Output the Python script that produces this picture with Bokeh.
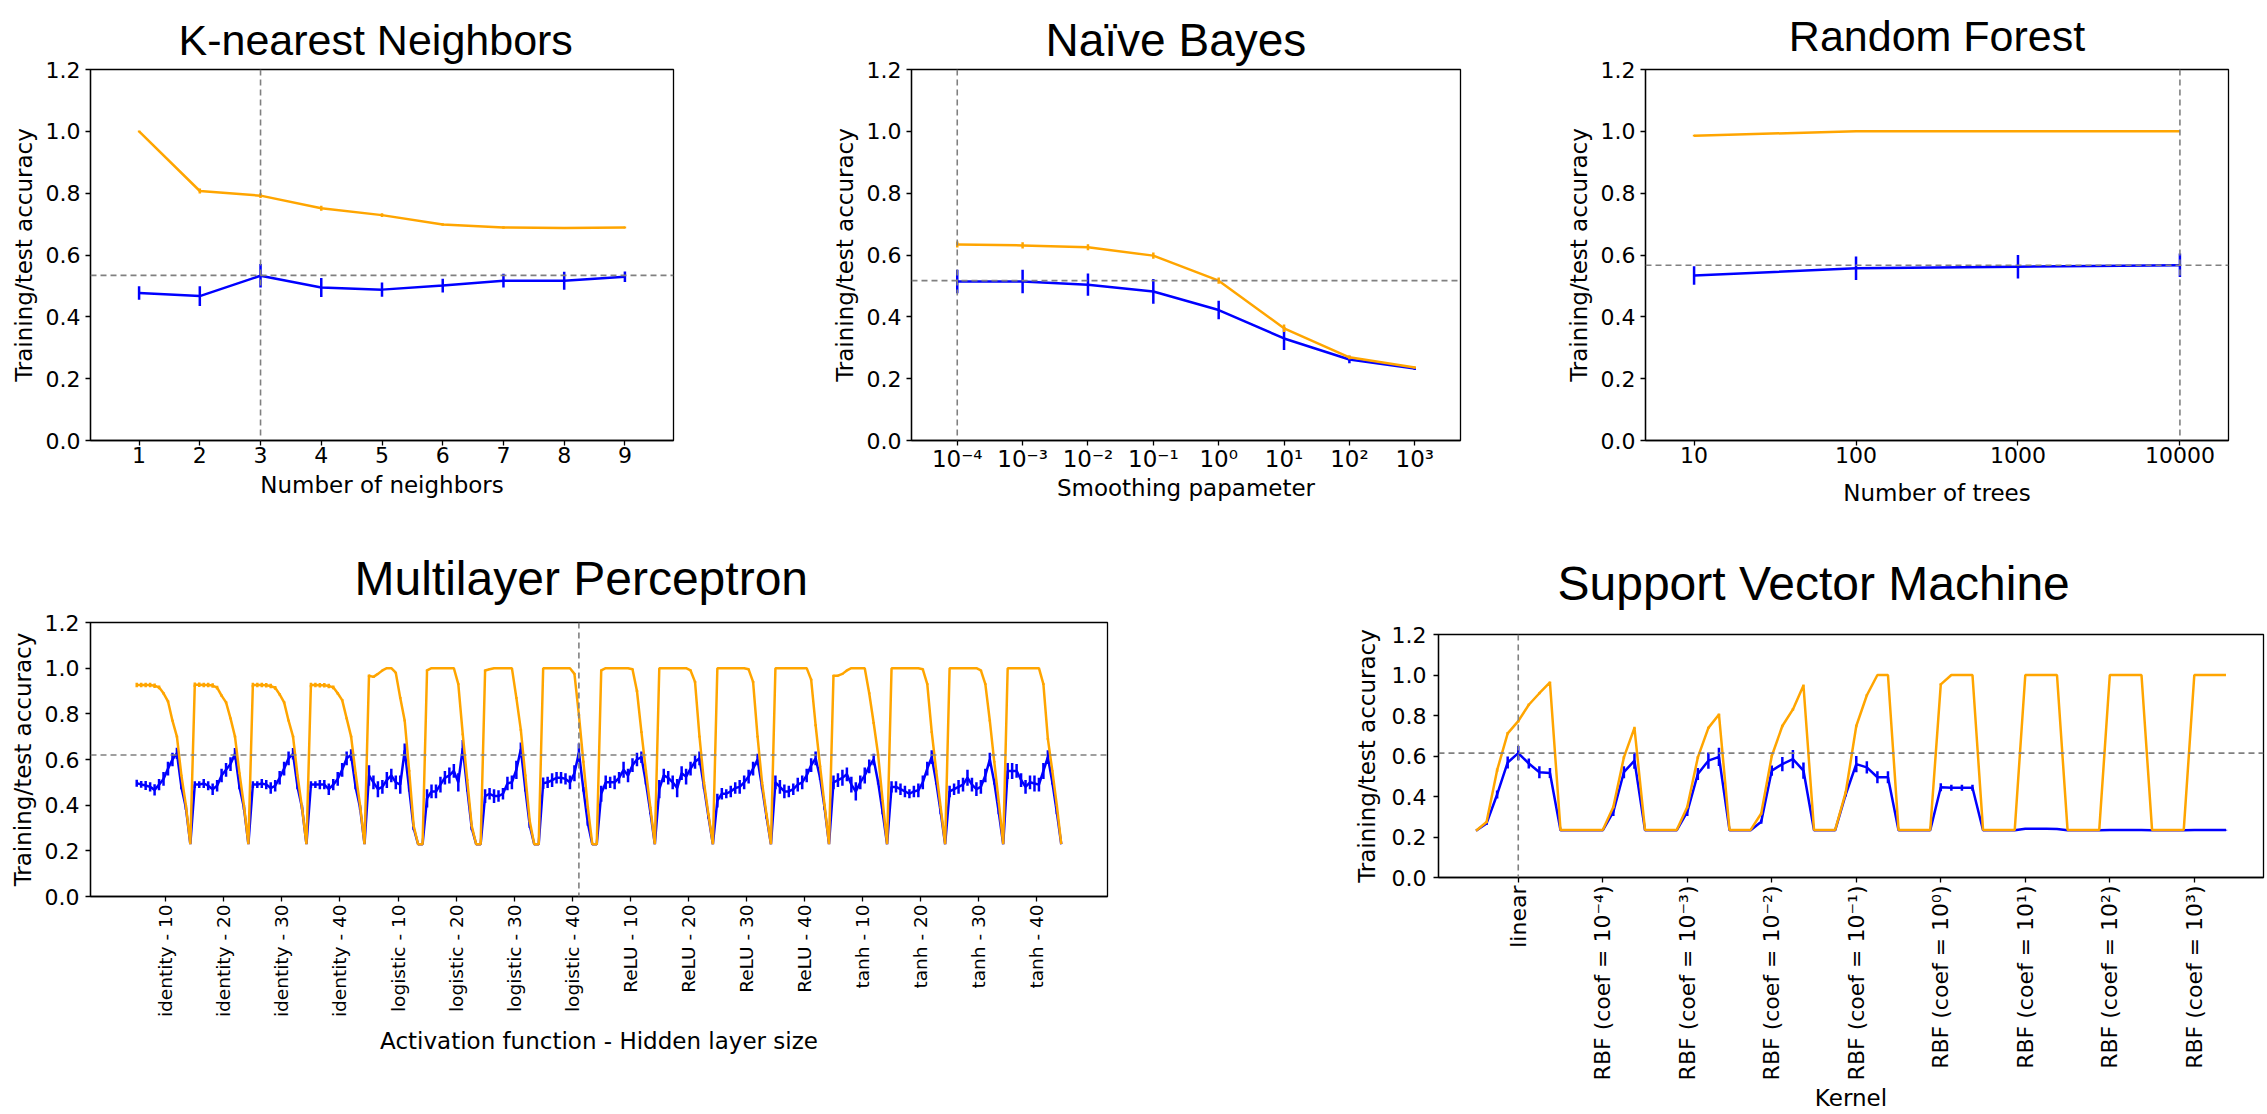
import math
import numpy as np
from bokeh.plotting import figure
from bokeh.layouts import column, row
from bokeh.models import Span, FixedTicker, PrintfTickFormatter, Spacer
from bokeh.embed import file_html
from bokeh.resources import INLINE

ORANGE = "#FFA500"
BLUE = "#0000FF"
DASH = "#808080"
FONT = "DejaVu Sans"
TFONT = "Liberation Sans"

# ---------------- K-nearest neighbours ----------------
knn_k = [1, 2, 3, 4, 5, 6, 7, 8, 9]
knn_train = [1.0, 0.807, 0.792, 0.751, 0.729, 0.699, 0.689, 0.687, 0.689]
knn_train_err = [0.003, 0.008, 0.008, 0.008, 0.006, 0.004, 0.004, 0.003, 0.003]
knn_test = [0.477, 0.467, 0.533, 0.495, 0.488, 0.501, 0.517, 0.517, 0.530]
knn_test_err = [0.022, 0.032, 0.038, 0.031, 0.023, 0.022, 0.022, 0.029, 0.017]
knn_best = 3
knn_best_acc = 0.534

# ---------------- Naive Bayes ----------------
nb_alpha = [1e-4, 1e-3, 1e-2, 1e-1, 1e0, 1e1, 1e2, 1e3]
nb_labels = ["10⁻⁴", "10⁻³", "10⁻²", "10⁻¹", "10⁰", "10¹", "10²", "10³"]
nb_train = [0.634, 0.631, 0.625, 0.598, 0.517, 0.363, 0.269, 0.236]
nb_train_err = [0.01, 0.01, 0.01, 0.01, 0.01, 0.012, 0.006, 0.004]
nb_test = [0.514, 0.514, 0.504, 0.482, 0.422, 0.330, 0.262, 0.233]
nb_test_err = [0.038, 0.038, 0.036, 0.04, 0.03, 0.037, 0.012, 0.005]
nb_best = 1e-4
nb_best_acc = 0.517

# ---------------- Random forest ----------------
rf_trees = [10, 100, 1000, 10000]
rf_labels = ["10", "100", "1000", "10000"]
rf_train = [0.986, 1.0, 1.0, 1.0]
rf_train_err = [0.003, 0.0, 0.0, 0.0]
rf_test = [0.534, 0.557, 0.562, 0.567]
rf_test_err = [0.03, 0.038, 0.038, 0.038]
rf_best = 10000
rf_best_acc = 0.567

# ---------------- Multilayer perceptron ----------------
mlp_labels = ["identity - 10", "identity - 20", "identity - 30", "identity - 40",
              "logistic - 10", "logistic - 20", "logistic - 30", "logistic - 40",
              "ReLU - 10", "ReLU - 20", "ReLU - 30", "ReLU - 40",
              "tanh - 10", "tanh - 20", "tanh - 30", "tanh - 40"]
mlp_train = [
    [0.926, 0.926, 0.926, 0.926, 0.923, 0.916, 0.89, 0.855, 0.77, 0.70, 0.53, 0.40, 0.229],
    [0.927, 0.927, 0.926, 0.926, 0.924, 0.915, 0.88, 0.85, 0.78, 0.70, 0.54, 0.40, 0.229],
    [0.926, 0.926, 0.926, 0.925, 0.922, 0.914, 0.885, 0.85, 0.77, 0.70, 0.53, 0.39, 0.229],
    [0.926, 0.926, 0.925, 0.925, 0.922, 0.916, 0.89, 0.86, 0.78, 0.70, 0.54, 0.40, 0.229],
    [0.967, 0.962, 0.975, 0.99, 1.0, 1.0, 0.98, 0.87, 0.77, 0.55, 0.31, 0.229, 0.229],
    [0.99, 1.0, 1.0, 1.0, 1.0, 1.0, 1.0, 0.93, 0.71, 0.51, 0.31, 0.229, 0.229],
    [0.99, 0.995, 1.0, 1.0, 1.0, 1.0, 1.0, 0.87, 0.73, 0.53, 0.33, 0.229, 0.229],
    [1.0, 1.0, 1.0, 1.0, 1.0, 1.0, 1.0, 0.975, 0.795, 0.59, 0.39, 0.229, 0.229],
    [0.99, 1.0, 1.0, 1.0, 1.0, 1.0, 1.0, 0.995, 0.90, 0.72, 0.55, 0.39, 0.229],
    [1.0, 1.0, 1.0, 1.0, 1.0, 1.0, 1.0, 0.99, 0.94, 0.70, 0.50, 0.36, 0.229],
    [1.0, 1.0, 1.0, 1.0, 1.0, 1.0, 1.0, 0.995, 0.94, 0.70, 0.50, 0.36, 0.229],
    [1.0, 1.0, 1.0, 1.0, 1.0, 1.0, 1.0, 1.0, 0.95, 0.75, 0.57, 0.40, 0.229],
    [0.967, 0.967, 0.975, 0.99, 1.0, 1.0, 1.0, 1.0, 0.89, 0.76, 0.62, 0.42, 0.229],
    [1.0, 1.0, 1.0, 1.0, 1.0, 1.0, 1.0, 0.995, 0.93, 0.72, 0.55, 0.39, 0.229],
    [1.0, 1.0, 1.0, 1.0, 1.0, 1.0, 1.0, 0.99, 0.93, 0.77, 0.59, 0.415, 0.229],
    [1.0, 1.0, 1.0, 1.0, 1.0, 1.0, 1.0, 1.0, 0.93, 0.69, 0.55, 0.40, 0.229],
]
mlp_train_err = [
    [0.01, 0.01, 0.01, 0.01, 0.01, 0.008, 0.005, 0.005, 0.004, 0.004, 0.003, 0.0, 0.0],
    [0.01, 0.01, 0.01, 0.01, 0.01, 0.008, 0.005, 0.005, 0.004, 0.004, 0.003, 0.0, 0.0],
    [0.01, 0.01, 0.01, 0.01, 0.01, 0.008, 0.005, 0.005, 0.004, 0.004, 0.003, 0.0, 0.0],
    [0.01, 0.01, 0.01, 0.01, 0.01, 0.008, 0.005, 0.005, 0.004, 0.004, 0.003, 0.0, 0.0],
    [0.005, 0.005, 0.004, 0.003, 0.0, 0.0, 0.003, 0.004, 0.004, 0.004, 0.003, 0.0, 0.0],
    [0.004, 0.0, 0.0, 0.0, 0.0, 0.0, 0.0, 0.004, 0.004, 0.004, 0.003, 0.0, 0.0],
    [0.004, 0.003, 0.0, 0.0, 0.0, 0.0, 0.0, 0.004, 0.004, 0.004, 0.003, 0.0, 0.0],
    [0.0, 0.0, 0.0, 0.0, 0.0, 0.0, 0.0, 0.004, 0.004, 0.004, 0.003, 0.0, 0.0],
    [0.004, 0.0, 0.0, 0.0, 0.0, 0.0, 0.0, 0.003, 0.004, 0.004, 0.003, 0.003, 0.0],
    [0.0, 0.0, 0.0, 0.0, 0.0, 0.0, 0.0, 0.004, 0.004, 0.004, 0.003, 0.003, 0.0],
    [0.0, 0.0, 0.0, 0.0, 0.0, 0.0, 0.0, 0.004, 0.004, 0.004, 0.003, 0.003, 0.0],
    [0.0, 0.0, 0.0, 0.0, 0.0, 0.0, 0.0, 0.0, 0.004, 0.004, 0.003, 0.003, 0.0],
    [0.004, 0.004, 0.004, 0.003, 0.0, 0.0, 0.0, 0.0, 0.004, 0.004, 0.003, 0.003, 0.0],
    [0.0, 0.0, 0.0, 0.0, 0.0, 0.0, 0.0, 0.003, 0.004, 0.004, 0.003, 0.003, 0.0],
    [0.0, 0.0, 0.0, 0.0, 0.0, 0.0, 0.0, 0.003, 0.004, 0.004, 0.003, 0.003, 0.0],
    [0.0, 0.0, 0.0, 0.0, 0.0, 0.0, 0.0, 0.0, 0.004, 0.004, 0.003, 0.003, 0.0],
]
mlp_test = [
    [0.496, 0.491, 0.486, 0.48, 0.467, 0.49, 0.515, 0.56, 0.60, 0.627, 0.48, 0.39, 0.229],
    [0.49, 0.49, 0.495, 0.485, 0.47, 0.485, 0.53, 0.555, 0.58, 0.625, 0.48, 0.39, 0.229],
    [0.49, 0.49, 0.495, 0.49, 0.475, 0.485, 0.52, 0.56, 0.605, 0.625, 0.48, 0.39, 0.229],
    [0.49, 0.49, 0.49, 0.49, 0.47, 0.49, 0.515, 0.555, 0.605, 0.62, 0.48, 0.39, 0.229],
    [0.53, 0.50, 0.47, 0.48, 0.51, 0.53, 0.50, 0.49, 0.64, 0.47, 0.30, 0.229, 0.229],
    [0.43, 0.46, 0.46, 0.49, 0.52, 0.53, 0.55, 0.50, 0.65, 0.47, 0.30, 0.229, 0.229],
    [0.44, 0.45, 0.44, 0.44, 0.45, 0.495, 0.50, 0.555, 0.645, 0.47, 0.31, 0.229, 0.229],
    [0.496, 0.50, 0.51, 0.52, 0.52, 0.515, 0.50, 0.54, 0.63, 0.47, 0.32, 0.229, 0.229],
    [0.45, 0.50, 0.50, 0.50, 0.52, 0.555, 0.53, 0.575, 0.60, 0.61, 0.50, 0.37, 0.229],
    [0.47, 0.53, 0.52, 0.50, 0.475, 0.54, 0.525, 0.56, 0.59, 0.605, 0.48, 0.35, 0.229],
    [0.42, 0.45, 0.45, 0.46, 0.475, 0.48, 0.50, 0.525, 0.56, 0.60, 0.48, 0.35, 0.229],
    [0.50, 0.48, 0.46, 0.46, 0.47, 0.49, 0.50, 0.53, 0.575, 0.605, 0.52, 0.39, 0.229],
    [0.50, 0.51, 0.52, 0.535, 0.49, 0.46, 0.50, 0.53, 0.57, 0.60, 0.50, 0.37, 0.229],
    [0.48, 0.48, 0.47, 0.46, 0.45, 0.46, 0.465, 0.50, 0.56, 0.61, 0.50, 0.37, 0.229],
    [0.46, 0.47, 0.48, 0.49, 0.52, 0.49, 0.47, 0.48, 0.53, 0.60, 0.50, 0.37, 0.229],
    [0.55, 0.55, 0.55, 0.51, 0.48, 0.50, 0.495, 0.49, 0.55, 0.61, 0.50, 0.37, 0.229],
]
mlp_test_err = [
    [0.015, 0.015, 0.02, 0.02, 0.025, 0.025, 0.03, 0.03, 0.03, 0.025, 0.01, 0.01, 0.0],
    [0.015, 0.015, 0.02, 0.02, 0.025, 0.025, 0.03, 0.03, 0.03, 0.025, 0.01, 0.01, 0.0],
    [0.015, 0.015, 0.02, 0.02, 0.025, 0.025, 0.03, 0.03, 0.03, 0.025, 0.01, 0.01, 0.0],
    [0.015, 0.015, 0.02, 0.02, 0.025, 0.025, 0.03, 0.03, 0.03, 0.025, 0.01, 0.01, 0.0],
    [0.045, 0.03, 0.035, 0.03, 0.035, 0.03, 0.03, 0.04, 0.03, 0.01, 0.01, 0.0, 0.0],
    [0.04, 0.03, 0.03, 0.035, 0.03, 0.035, 0.03, 0.04, 0.035, 0.01, 0.01, 0.0, 0.0],
    [0.03, 0.025, 0.03, 0.025, 0.025, 0.03, 0.03, 0.04, 0.03, 0.01, 0.01, 0.0, 0.0],
    [0.025, 0.025, 0.03, 0.025, 0.025, 0.025, 0.03, 0.035, 0.04, 0.01, 0.01, 0.0, 0.0],
    [0.035, 0.03, 0.025, 0.03, 0.025, 0.035, 0.03, 0.03, 0.03, 0.025, 0.01, 0.01, 0.0],
    [0.04, 0.03, 0.03, 0.03, 0.04, 0.03, 0.035, 0.03, 0.03, 0.03, 0.01, 0.01, 0.0],
    [0.03, 0.025, 0.02, 0.025, 0.025, 0.03, 0.03, 0.03, 0.03, 0.025, 0.01, 0.01, 0.0],
    [0.03, 0.03, 0.03, 0.025, 0.025, 0.03, 0.03, 0.03, 0.03, 0.03, 0.01, 0.01, 0.0],
    [0.03, 0.03, 0.035, 0.03, 0.035, 0.04, 0.03, 0.035, 0.03, 0.025, 0.01, 0.01, 0.0],
    [0.025, 0.025, 0.025, 0.025, 0.02, 0.025, 0.03, 0.03, 0.03, 0.03, 0.01, 0.01, 0.0],
    [0.025, 0.025, 0.03, 0.03, 0.035, 0.03, 0.03, 0.03, 0.03, 0.03, 0.01, 0.01, 0.0],
    [0.035, 0.035, 0.03, 0.03, 0.03, 0.03, 0.035, 0.03, 0.035, 0.03, 0.01, 0.01, 0.0],
]
mlp_best_index = 99
mlp_best_acc = 0.62

# ---------------- Support vector machine ----------------
svm_labels = ["linear", "RBF (coef = 10⁻⁴)", "RBF (coef = 10⁻³)", "RBF (coef = 10⁻²)",
              "RBF (coef = 10⁻¹)", "RBF (coef = 10⁰)", "RBF (coef = 10¹)",
              "RBF (coef = 10²)", "RBF (coef = 10³)"]
svm_train = [
    [0.231, 0.274, 0.53, 0.712, 0.772, 0.853, 0.910, 0.964],
    [0.235, 0.235, 0.235, 0.235, 0.235, 0.348, 0.593, 0.739],
    [0.235, 0.235, 0.235, 0.235, 0.348, 0.593, 0.739, 0.805],
    [0.235, 0.235, 0.235, 0.316, 0.60, 0.748, 0.83, 0.948],
    [0.235, 0.235, 0.235, 0.42, 0.748, 0.90, 1.0, 1.0],
    [0.235, 0.235, 0.235, 0.235, 0.954, 1.0, 1.0, 1.0],
    [0.235, 0.235, 0.235, 0.235, 1.0, 1.0, 1.0, 1.0],
    [0.235, 0.235, 0.235, 0.235, 1.0, 1.0, 1.0, 1.0],
    [0.235, 0.235, 0.235, 0.235, 1.0, 1.0, 1.0, 1.0],
]
svm_train_err = [
    [0.0, 0.005, 0.008, 0.006, 0.006, 0.006, 0.005, 0.004],
    [0.0, 0.0, 0.0, 0.0, 0.0, 0.006, 0.006, 0.006],
    [0.0, 0.0, 0.0, 0.0, 0.006, 0.006, 0.006, 0.005],
    [0.0, 0.0, 0.0, 0.006, 0.006, 0.006, 0.006, 0.005],
    [0.0, 0.0, 0.0, 0.006, 0.006, 0.005, 0.0, 0.0],
    [0.0, 0.0, 0.0, 0.0, 0.005, 0.0, 0.0, 0.0],
    [0.0, 0.0, 0.0, 0.0, 0.0, 0.0, 0.0, 0.0],
    [0.0, 0.0, 0.0, 0.0, 0.0, 0.0, 0.0, 0.0],
    [0.0, 0.0, 0.0, 0.0, 0.0, 0.0, 0.0, 0.0],
]
svm_test = [
    [0.231, 0.267, 0.41, 0.568, 0.614, 0.563, 0.52, 0.516],
    [0.233, 0.233, 0.233, 0.233, 0.233, 0.324, 0.52, 0.577],
    [0.233, 0.233, 0.233, 0.233, 0.324, 0.511, 0.577, 0.596],
    [0.233, 0.233, 0.233, 0.275, 0.528, 0.56, 0.585, 0.528],
    [0.233, 0.233, 0.233, 0.41, 0.56, 0.544, 0.495, 0.495],
    [0.233, 0.233, 0.233, 0.233, 0.446, 0.443, 0.443, 0.443],
    [0.233, 0.233, 0.233, 0.233, 0.241, 0.241, 0.241, 0.240],
    [0.233, 0.233, 0.233, 0.233, 0.234, 0.234, 0.234, 0.234],
    [0.233, 0.233, 0.233, 0.233, 0.234, 0.234, 0.234, 0.234],
]
svm_test_err = [
    [0.0, 0.008, 0.02, 0.03, 0.035, 0.025, 0.03, 0.025],
    [0.0, 0.0, 0.0, 0.0, 0.0, 0.02, 0.03, 0.04],
    [0.0, 0.0, 0.0, 0.0, 0.02, 0.03, 0.04, 0.045],
    [0.0, 0.0, 0.0, 0.01, 0.025, 0.035, 0.045, 0.04],
    [0.0, 0.0, 0.0, 0.01, 0.04, 0.03, 0.03, 0.03],
    [0.0, 0.0, 0.0, 0.0, 0.02, 0.015, 0.015, 0.015],
    [0.0, 0.0, 0.0, 0.0, 0.003, 0.003, 0.003, 0.003],
    [0.0, 0.0, 0.0, 0.0, 0.002, 0.002, 0.002, 0.002],
    [0.0, 0.0, 0.0, 0.0, 0.002, 0.002, 0.002, 0.002],
]
svm_best_index = 4
svm_best_acc = 0.614

Y_TICKS = [0.0, 0.2, 0.4, 0.6, 0.8, 1.0, 1.2]


def make_fig(width, height, x_range, bl, br, bt, bb, title, title_size, title_standoff,
             title_align, title_offset, xlabel, xtick_size="22px", x_std=1, xlab_std=2,
             y_std=5, ylab_std=6):
    p = figure(width=width, height=height, x_range=x_range, y_range=(0, 1.2),
               output_backend="svg", toolbar_location=None,
               min_border_left=bl, min_border_right=br,
               min_border_top=bt, min_border_bottom=bb, title=title)
    p.title.align = title_align
    p.title.offset = title_offset
    p.title.text_font = TFONT
    p.title.text_font_size = title_size
    p.title.text_font_style = "normal"
    p.title.text_color = "black"
    p.title.standoff = title_standoff
    p.xgrid.grid_line_color = None
    p.ygrid.grid_line_color = None
    p.outline_line_color = "black"
    p.outline_line_alpha = 1.0
    p.outline_line_width = 1.3
    p.background_fill_color = "white"
    p.border_fill_color = "white"
    for ax in (p.xaxis[0], p.yaxis[0]):
        ax.axis_line_color = "black"
        ax.axis_line_width = 1.3
        ax.major_tick_line_color = "black"
        ax.major_tick_line_width = 1.3
        ax.major_tick_out = 5
        ax.major_tick_in = 0
        ax.minor_tick_out = 0
        ax.minor_tick_in = 0
        ax.major_label_text_font = FONT
        ax.major_label_text_color = "black"
        ax.axis_label_text_font = FONT
        ax.axis_label_text_font_size = "23px"
        ax.axis_label_text_font_style = "normal"
        ax.axis_label_text_color = "black"
    p.xaxis.major_label_standoff = x_std
    p.xaxis.axis_label_standoff = xlab_std
    p.yaxis.major_label_standoff = y_std
    p.yaxis.axis_label_standoff = ylab_std
    p.yaxis.major_label_text_font_size = "22px"
    p.xaxis.major_label_text_font_size = xtick_size
    p.yaxis.ticker = FixedTicker(ticks=Y_TICKS)
    p.yaxis.formatter = PrintfTickFormatter(format="%.1f")
    p.yaxis.axis_label = "Training/test accuracy"
    p.xaxis.axis_label = xlabel
    return p


def draw(p, x, train, train_err, test, test_err, lw=2.5):
    x = np.asarray(x, dtype=float)
    tr = np.asarray(train, dtype=float)
    tre = np.asarray(train_err, dtype=float)
    te = np.asarray(test, dtype=float)
    tee = np.asarray(test_err, dtype=float)
    p.line(x, te, line_color=BLUE, line_width=lw)
    p.segment(x0=x, y0=te - tee, x1=x, y1=te + tee, line_color=BLUE, line_width=lw)
    p.line(x, tr, line_color=ORANGE, line_width=lw)
    p.segment(x0=x, y0=tr - tre, x1=x, y1=tr + tre, line_color=ORANGE, line_width=lw)


def guides(p, xbest, ybest):
    p.add_layout(Span(location=ybest, dimension="width", line_color=DASH,
                      line_dash="6 4", line_width=1.6))
    p.add_layout(Span(location=xbest, dimension="height", line_color=DASH,
                      line_dash="6 4", line_width=1.6))


# ---- KNN ----  frame x 90-673, y 62-440
p1 = make_fig(790, 529, (0.2, 9.8), 90, 117, 62, 89, "K-nearest Neighbors", "43px", 12,
              "left", 88, "Number of neighbors", xlab_std=6)
p1.xaxis.ticker = FixedTicker(ticks=knn_k)
draw(p1, knn_k, knn_train, knn_train_err, knn_test, knn_test_err)
guides(p1, knn_best, knn_best_acc)

# ---- Naive Bayes ----  frame x 911-1460, y 62-440
nb_x = np.log10(nb_alpha)
p2 = make_fig(770, 529, (-4.7, 3.7), 121, 100, 62, 89, "Naïve Bayes", "46px", 8,
              "left", 134, "Smoothing papameter", xtick_size="23px", x_std=0, xlab_std=0)
p2.xaxis.ticker = FixedTicker(ticks=list(nb_x))
p2.xaxis.major_label_overrides = {int(round(v)): lab for v, lab in zip(nb_x, nb_labels)}
draw(p2, nb_x, nb_train, nb_train_err, nb_test, nb_test_err)
guides(p2, float(np.log10(nb_best)), nb_best_acc)

# ---- Random forest ----  frame x 1645-2228, y 69-447
rf_x = np.log10(rf_trees)
p3 = make_fig(706, 529, (0.7, 4.3), 85, 38, 69, 82, "Random Forest", "43px", 19,
              "center", 0, "Number of trees", xlab_std=14)
p3.xaxis.ticker = FixedTicker(ticks=list(rf_x))
p3.xaxis.major_label_overrides = {int(round(v)): lab for v, lab in zip(rf_x, rf_labels)}
draw(p3, rf_x, rf_train, rf_train_err, rf_test, rf_test_err)
guides(p3, float(np.log10(rf_best)), rf_best_acc)

# ---- MLP ----  frame x 90-1107, y 622-896
per = len(mlp_train[0])
n_mlp = len(mlp_labels) * per
mlp_x = np.arange(n_mlp)
p4 = make_fig(1300, 585, (-10.35, n_mlp - 1 + 10.35), 90, 193, 93, 218,
              "Multilayer Perceptron", "48px", 36, "left", 264,
              "Activation function - Hidden layer size", xtick_size="18.5px",
              x_std=3, xlab_std=8, y_std=6, ylab_std=6)
mlp_ticks = [g * per + 6.5 for g in range(len(mlp_labels))]
p4.xaxis.ticker = FixedTicker(ticks=mlp_ticks)
p4.xaxis.major_label_overrides = {t: lab for t, lab in zip(mlp_ticks, mlp_labels)}
p4.xaxis.major_label_orientation = math.pi / 2
draw(p4, mlp_x, sum(mlp_train, []), sum(mlp_train_err, []),
     sum(mlp_test, []), sum(mlp_test_err, []))
guides(p4, mlp_best_index, mlp_best_acc)

# ---- SVM ----  frame x 1438-2263, y 633-877
sper = len(svm_train[0])
n_svm = len(svm_labels) * sper
svm_x = np.arange(n_svm)
p5 = make_fig(966, 584, (-3.55, n_svm - 1 + 3.55), 138, 3, 103, 237,
              "Support Vector Machine", "48px", 49, "left", 119, "Kernel",
              xtick_size="22px", x_std=3, xlab_std=2, y_std=7, ylab_std=9)
svm_ticks = [g * sper + 4 for g in range(len(svm_labels))]
p5.xaxis.ticker = FixedTicker(ticks=svm_ticks)
p5.xaxis.major_label_overrides = {t: lab for t, lab in zip(svm_ticks, svm_labels)}
p5.xaxis.major_label_orientation = math.pi / 2
draw(p5, svm_x, sum(svm_train, []), sum(svm_train_err, []),
     sum(svm_test, []), sum(svm_test_err, []))
guides(p5, svm_best_index, svm_best_acc)

layout = column(row(p1, p2, p3),
                row(p4, column(Spacer(width=966, height=1), p5)))
open("out.html", "w").write(file_html(layout, INLINE))
